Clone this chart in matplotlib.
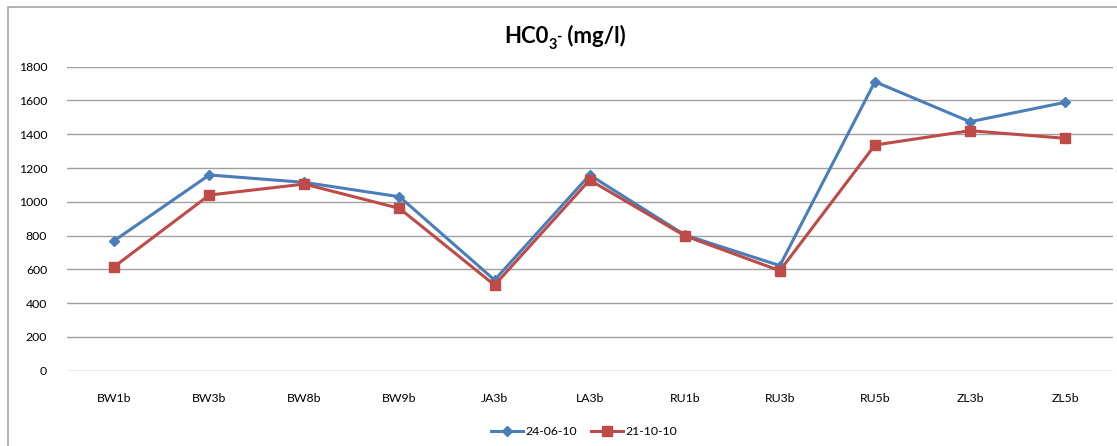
import numpy as np
import matplotlib
matplotlib.use("Agg")
from matplotlib import pyplot as plt
from matplotlib.patches import Rectangle

sites = ['BW1b', 'BW3b', 'BW8b', 'BW9b', 'JA3b', 'LA3b',
         'RU1b', 'RU3b', 'RU5b', 'ZL3b', 'ZL5b']
jun = [770, 1159, 1115, 1030, 537, 1159, 804, 622, 1711, 1474, 1589]
oct_ = [616, 1040, 1105, 961, 507, 1129, 799, 592, 1336, 1421, 1376]
yticks = [0, 200, 400, 600, 800, 1000, 1200, 1400, 1600, 1800]

plt.rcParams['font.family'] = ['Lato', 'DejaVu Sans']

fig = plt.figure(figsize=(11.17, 4.46), dpi=100)
ax = fig.add_axes([0.0597, 0.1688, 0.9364, 0.6817])

# outer chart frame
fig.patches.append(Rectangle((8/1117, -0.1), 1.2, 1 - 7/446 + 0.1,
                             transform=fig.transFigure, fill=False,
                             edgecolor='#a6a6a6', linewidth=1.2))

x = np.arange(len(sites))
ax.plot(x, jun, color='#4a7ebb', lw=2.2, marker='D', ms=5.5, label='24-06-10', zorder=3)
ax.plot(x, oct_, color='#be4b48', lw=2.2, marker='s', ms=7, label='21-10-10', zorder=3)

ax.set_xlim(-0.5, len(sites) - 0.5)
ax.set_ylim(0, 1800)
ax.set_yticks(yticks)
ax.set_xticks(x)
ax.set_xticklabels(sites)
ax.tick_params(axis='both', length=0, labelsize=8.8, colors='black')
ax.tick_params(axis='y', pad=14)
ax.tick_params(axis='x', pad=16)
ax.grid(axis='y', color='#a0a0a0', linewidth=1)
ax.set_axisbelow(True)
for s in ax.spines.values():
    s.set_visible(False)

# title built from pieces: HC0, subscript 3, superscript -, (mg/l)
t1 = fig.text(504/1117, 1 - 43/446, 'HC0', fontsize=16, fontweight='bold',
              ha='left', va='baseline')
t2 = ax.annotate('3', xy=(1, 0), xycoords=t1, xytext=(0.3, -1.5),
                 textcoords='offset points', fontsize=10.5, fontweight='bold',
                 va='baseline', annotation_clip=False)
t3 = ax.annotate('-', xy=(1, 0), xycoords=t2, xytext=(-0.5, 8.5),
                 textcoords='offset points', fontsize=10.5, fontweight='bold',
                 va='baseline', annotation_clip=False)
t4 = ax.annotate(' (mg/l)', xy=(1, 0), xycoords=(t3, t1), xytext=(0, 0),
                 textcoords='offset points', fontsize=16, fontweight='bold',
                 va='bottom', annotation_clip=False)

fig.legend(loc='center', bbox_to_anchor=(0.523, 0.033), ncol=2, frameon=False,
           fontsize=8.8, handlelength=2.6, columnspacing=1.2, handletextpad=0.2)

fig.savefig('out.png', dpi=100)
